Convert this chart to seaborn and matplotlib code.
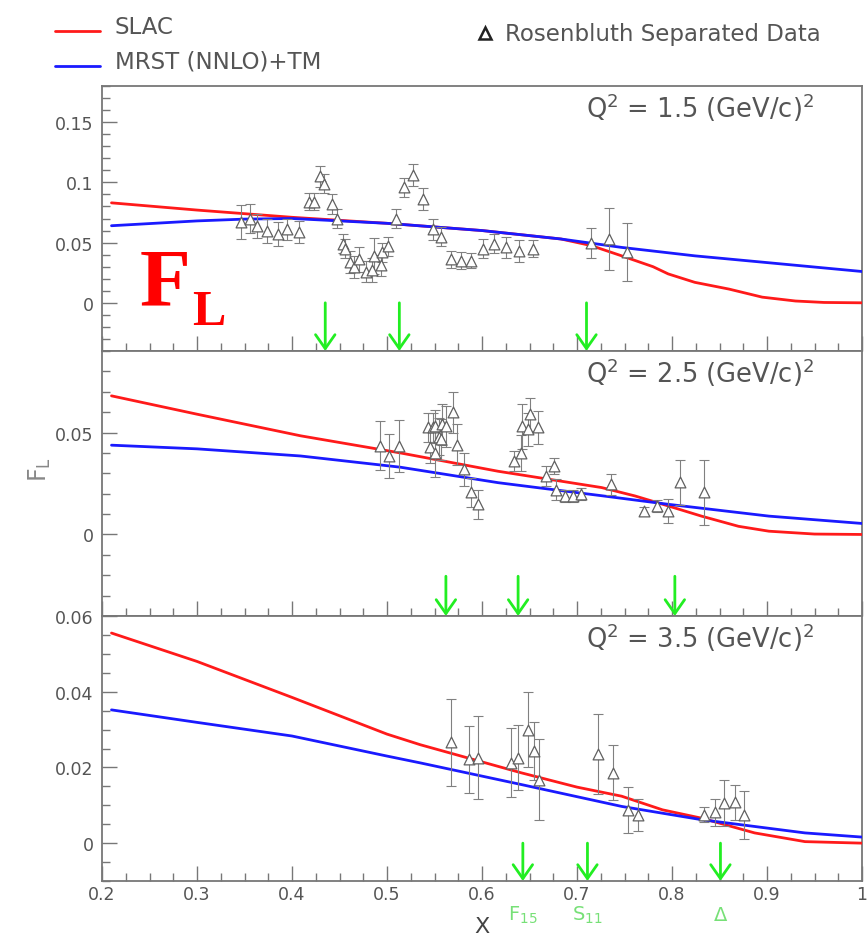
import numpy as np
import pandas as pd
import matplotlib
matplotlib.use("Agg")
import matplotlib.pyplot as plt
import seaborn as sns
from matplotlib.ticker import MultipleLocator, FuncFormatter
from matplotlib.lines import Line2D

# ---------------- data ----------------
# Panel 1: Q^2 = 1.5
slac1_x = [0.21, 0.30, 0.40, 0.50, 0.60, 0.683, 0.715, 0.747, 0.78, 0.796, 0.824, 0.86, 0.895, 0.93, 0.96, 1.0]
slac1_y = [0.083, 0.077, 0.071, 0.066, 0.060, 0.053, 0.0475, 0.039, 0.030, 0.024, 0.017, 0.0114, 0.0047, 0.0015, 0.0003, 0.0]
mrst1_x = [0.21, 0.30, 0.35, 0.40, 0.50, 0.60, 0.683, 0.747, 0.824, 0.90, 1.0]
mrst1_y = [0.064, 0.068, 0.0695, 0.070, 0.066, 0.060, 0.053, 0.046, 0.039, 0.0334, 0.026]
data1_x = [0.346, 0.356, 0.363, 0.374, 0.385, 0.395, 0.407, 0.418, 0.423, 0.429, 0.434, 0.442, 0.447,
           0.454, 0.456, 0.461, 0.465, 0.470, 0.478, 0.484, 0.486, 0.494, 0.495, 0.501, 0.509, 0.518,
           0.527, 0.538, 0.548, 0.557, 0.567, 0.578, 0.588, 0.601, 0.613, 0.625, 0.639, 0.654,
           0.715, 0.734, 0.753]
data1_y = [0.067, 0.070, 0.064, 0.060, 0.057, 0.061, 0.059, 0.084, 0.084, 0.105, 0.099, 0.082, 0.070,
           0.049, 0.045, 0.034, 0.030, 0.036, 0.026, 0.027, 0.039, 0.031, 0.042, 0.047, 0.070, 0.096,
           0.106, 0.086, 0.061, 0.055, 0.036, 0.035, 0.035, 0.045, 0.049, 0.046, 0.043, 0.045,
           0.050, 0.053, 0.042]
data1_e = [0.014, 0.012, 0.010, 0.010, 0.010, 0.009, 0.009, 0.007, 0.007, 0.009, 0.008, 0.008, 0.008,
           0.008, 0.008, 0.009, 0.009, 0.010, 0.009, 0.010, 0.015, 0.009, 0.008, 0.008, 0.008, 0.008,
           0.009, 0.009, 0.009, 0.008, 0.007, 0.007, 0.006, 0.008, 0.008, 0.009, 0.009, 0.007,
           0.0125, 0.026, 0.024]
arrows1_x = [0.435, 0.513, 0.710]

# Panel 2: Q^2 = 2.5
slac2_x = [0.21, 0.30, 0.409, 0.514, 0.617, 0.726, 0.761, 0.796, 0.831, 0.87, 0.902, 0.95, 1.0]
slac2_y = [0.068, 0.059, 0.0484, 0.040, 0.031, 0.023, 0.0189, 0.014, 0.009, 0.004, 0.0016, 0.0002, 0.0]
mrst2_x = [0.21, 0.30, 0.409, 0.514, 0.617, 0.726, 0.796, 0.902, 1.0]
mrst2_y = [0.0438, 0.042, 0.0385, 0.033, 0.0254, 0.019, 0.0148, 0.009, 0.0054]
data2_x = [0.493, 0.502, 0.513, 0.543, 0.545, 0.548, 0.550, 0.551, 0.555, 0.557, 0.558, 0.562, 0.569,
           0.574, 0.581, 0.588, 0.596, 0.634, 0.641, 0.642, 0.648, 0.650, 0.659, 0.667, 0.676, 0.678,
           0.687, 0.696, 0.704, 0.736, 0.770, 0.784, 0.796, 0.808, 0.834]
data2_y = [0.0435, 0.0385, 0.0435, 0.0526, 0.043, 0.0526, 0.040, 0.053, 0.048, 0.0467, 0.054, 0.053, 0.060,
           0.044, 0.032, 0.0207, 0.0148, 0.036, 0.040, 0.053, 0.0516, 0.059, 0.0525, 0.0287, 0.0336, 0.022,
           0.0189, 0.019, 0.0197, 0.0246, 0.0115, 0.0139, 0.0115, 0.0256, 0.0206]
data2_e = [0.012, 0.011, 0.0127, 0.007, 0.008, 0.007, 0.012, 0.008, 0.009, 0.010, 0.010, 0.010, 0.010,
           0.010, 0.008, 0.007, 0.007, 0.005, 0.009, 0.011, 0.008, 0.008, 0.008, 0.005, 0.004, 0.005,
           0.003, 0.003, 0.003, 0.005, 0.002, 0.003, 0.006, 0.011, 0.016]
arrows2_x = [0.562, 0.638, 0.803]

# Panel 3: Q^2 = 3.5
slac3_x = [0.21, 0.30, 0.40, 0.50, 0.535, 0.641, 0.70, 0.747, 0.79, 0.831, 0.887, 0.94, 1.0]
slac3_y = [0.0555, 0.048, 0.0385, 0.0288, 0.026, 0.0186, 0.0148, 0.0124, 0.0088, 0.0066, 0.0027, 0.0004, 0.0]
mrst3_x = [0.21, 0.30, 0.40, 0.50, 0.535, 0.641, 0.747, 0.831, 0.94, 1.0]
mrst3_y = [0.0352, 0.0319, 0.0283, 0.023, 0.0212, 0.0155, 0.0097, 0.0062, 0.0027, 0.0016]
data3_x = [0.567, 0.586, 0.596, 0.631, 0.638, 0.648, 0.655, 0.660, 0.722, 0.738, 0.754, 0.764,
           0.834, 0.845, 0.855, 0.866, 0.876]
data3_y = [0.0266, 0.0221, 0.0226, 0.0213, 0.0226, 0.030, 0.0243, 0.0168, 0.0235, 0.0186, 0.0088, 0.0075,
           0.0075, 0.0081, 0.0106, 0.0108, 0.0075]
data3_e = [0.0115, 0.0088, 0.011, 0.0092, 0.0086, 0.010, 0.0076, 0.0106, 0.0105, 0.0072, 0.006, 0.0042,
           0.002, 0.0036, 0.006, 0.0046, 0.0063]
arrows3_x = [0.643, 0.711, 0.851]
res_labels = [r"F$_{15}$", r"S$_{11}$", r"$\Delta$"]

q2_labels = [r"Q$^2$ = 1.5 (GeV/c)$^2$", r"Q$^2$ = 2.5 (GeV/c)$^2$", r"Q$^2$ = 3.5 (GeV/c)$^2$"]
ylims = [(-0.04, 0.18), (-0.04, 0.09), (-0.01, 0.06)]
ymajor = [0.05, 0.05, 0.02]
yminor = [0.01, 0.01, 0.005]
arrow_tops = [0.0, -0.0205, 0.0]

# ---------------- style ----------------
sns.set_style("white")
plt.rcParams["font.family"] = ["DejaVu Sans"]
plt.rcParams["mathtext.fontset"] = "dejavusans"

W, H = 867, 937
fig = plt.figure(figsize=(W / 100, H / 100), dpi=100)

RED = "#ff1a1a"
BLUE = "#1a1aff"
GREEN = "#22ee22"
LGREEN = "#77e077"
GRAY = "#555555"
SPINE = "#777777"

left = 102 / W
width = (862 - 102) / W
tops = [87, 352, 617]
ph = 265

panels = [
    (slac1_x, slac1_y, mrst1_x, mrst1_y, data1_x, data1_y, data1_e, arrows1_x),
    (slac2_x, slac2_y, mrst2_x, mrst2_y, data2_x, data2_y, data2_e, arrows2_x),
    (slac3_x, slac3_y, mrst3_x, mrst3_y, data3_x, data3_y, data3_e, arrows3_x),
]

fmt = FuncFormatter(lambda v, p: "%g" % round(v, 6))

axes = []
for i, (sx, sy, mx, my, dx, dy, de, ax_arr) in enumerate(panels):
    bottom = 1 - (tops[i] + ph) / H
    ax = fig.add_axes([left, bottom, width, ph / H])
    axes.append(ax)
    dfs = pd.DataFrame({"x": sx, "y": sy})
    dfm = pd.DataFrame({"x": mx, "y": my})
    sns.lineplot(data=dfs, x="x", y="y", ax=ax, color=RED, lw=2.0, sort=False, zorder=3)
    sns.lineplot(data=dfm, x="x", y="y", ax=ax, color=BLUE, lw=2.0, sort=False, zorder=3)
    ax.errorbar(dx, dy, yerr=de, fmt="none", ecolor="#808080", elinewidth=0.8,
                capsize=3.5, capthick=0.8, zorder=4)
    dfd = pd.DataFrame({"x": dx, "y": dy})
    sns.scatterplot(data=dfd, x="x", y="y", ax=ax, marker="^", s=60,
                    facecolor="white", edgecolor="#606060", linewidth=0.9, zorder=5)
    ylo, yhi = ylims[i]
    for xa in ax_arr:
        ax.annotate("", xy=(xa, ylo), xytext=(xa, arrow_tops[i]),
                    arrowprops=dict(arrowstyle="->,head_length=1.0,head_width=0.7",
                                    color=GREEN, lw=2.0, shrinkA=0, shrinkB=0),
                    zorder=6)
    ax.set_xlim(0.2, 1.0)
    ax.set_ylim(ylo, yhi)
    ax.xaxis.set_major_locator(MultipleLocator(0.1))
    ax.xaxis.set_minor_locator(MultipleLocator(0.025))
    ax.yaxis.set_major_locator(MultipleLocator(ymajor[i]))
    ax.yaxis.set_minor_locator(MultipleLocator(yminor[i]))
    ax.yaxis.set_major_formatter(fmt)
    ax.xaxis.set_major_formatter(fmt)
    ax.tick_params(which="both", direction="in", left=True, bottom=True, top=False, right=False,
                   color=SPINE, labelcolor=GRAY, labelsize=12.5, width=1.0)
    ax.tick_params(which="major", length=11)
    ax.tick_params(which="minor", length=5.5)
    ax.tick_params(axis="y", pad=6)
    if i < 2:
        ax.tick_params(axis="x", labelbottom=False)
    else:
        ax.tick_params(axis="x", pad=3)
    for s in ax.spines.values():
        s.set_color(SPINE)
        s.set_linewidth(1.3)
        s.set_visible(True)
    ax.set_xlabel("")
    ax.set_ylabel("")
    ax.text(0.787, 0.92, q2_labels[i], transform=ax.transAxes, ha="center", va="center",
            fontsize=18.5, color=GRAY)

# resonance labels under the bottom axis
ax3 = axes[2]
for xa, lab in zip(arrows3_x, res_labels):
    ax3.text(xa, -0.0188, lab, ha="center", va="center", fontsize=14, color=LGREEN, clip_on=False)
ax3.text(0.60, -0.0219, "X", ha="center", va="center", fontsize=16, color="#444444", clip_on=False)

# big red F_L in top panel
ax1 = axes[0]
ax1.text(0.24, -0.001, "F", fontsize=60, color="red", fontweight="bold",
         family=["Liberation Serif", "DejaVu Serif"], va="baseline", ha="left")
ax1.text(0.295, -0.0178, "L", fontsize=36, color="red", fontweight="bold",
         family=["Liberation Serif", "DejaVu Serif"], va="baseline", ha="left")

# y label
fig.text(40 / W, 1 - 470 / H, r"F$_{\rm L}$", rotation=90, ha="center", va="center",
         fontsize=17, color="#888888")

# legend (top)
fig.add_artist(Line2D([55 / W, 100 / W], [1 - 32 / H] * 2, color=RED, lw=2.0,
                      transform=fig.transFigure))
fig.add_artist(Line2D([55 / W, 100 / W], [1 - 67 / H] * 2, color=BLUE, lw=2.0,
                      transform=fig.transFigure))
fig.text(115 / W, 1 - 27 / H, "SLAC", fontsize=16.5, color=GRAY, va="center", ha="left")
fig.text(115 / W, 1 - 62 / H, "MRST (NNLO)+TM", fontsize=16.5, color=GRAY, va="center", ha="left")
fig.add_artist(Line2D([485 / W], [1 - 34 / H], marker="^", markersize=9, markerfacecolor="white",
                      markeredgecolor="#222222", markeredgewidth=1.8, linestyle="none",
                      transform=fig.transFigure))
fig.text(505 / W, 1 - 34 / H, "Rosenbluth Separated Data", fontsize=16.5, color=GRAY,
         va="center", ha="left")

fig.savefig("out.png", dpi=100, facecolor="white")
